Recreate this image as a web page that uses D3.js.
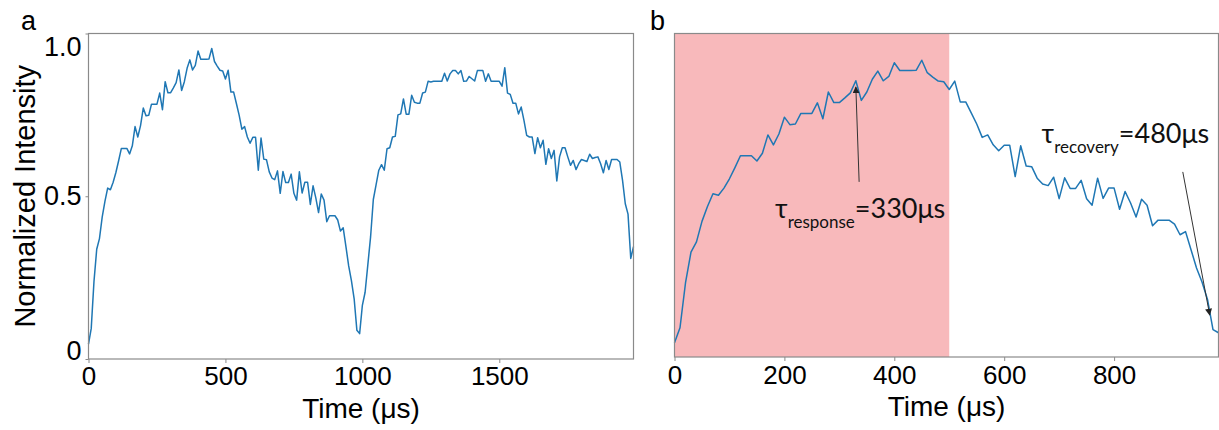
<!DOCTYPE html>
<html>
<head>
<meta charset="utf-8">
<script src="https://cdn.jsdelivr.net/npm/d3@7"></script>
<style>
  body { margin: 0; background: #fff; }
  svg { display: block; font-family: "Liberation Sans", Arial, sans-serif; }
  .note { font-family: Lato, "Open Sans", sans-serif; fill: #111; }
</style>
</head>
<body>
<svg id="chart" width="1219" height="430"></svg>
<script>
// sampled every 10 us, 0..1990 us
timeStep = 10;
intensity = [
  0.046,0.094,0.238,0.337,0.370,0.436,0.484,0.525,0.520,0.543,
  0.573,0.609,0.647,0.647,0.647,0.630,0.655,0.714,0.682,0.717,
  0.771,0.747,0.749,0.783,0.783,0.783,0.817,0.766,0.852,0.818,
  0.818,0.833,0.849,0.888,0.825,0.852,0.893,0.919,0.888,0.902,
  0.946,0.921,0.921,0.921,0.922,0.954,0.914,0.900,0.887,0.885,
  0.860,0.887,0.820,0.820,0.785,0.749,0.706,0.714,0.682,0.663,
  0.681,0.681,0.580,0.679,0.614,0.612,0.575,0.556,0.551,0.578,
  0.509,0.576,0.542,0.542,0.568,0.509,0.488,0.575,0.510,0.543,
  0.543,0.475,0.532,0.495,0.450,0.507,0.488,0.422,0.440,0.440,
  0.440,0.427,0.393,0.403,0.345,0.286,0.241,0.185,0.088,0.078,
  0.165,0.205,0.290,0.375,0.490,0.535,0.580,0.597,0.580,0.646,
  0.649,0.682,0.684,0.750,0.753,0.799,0.752,0.752,0.810,0.789,
  0.786,0.786,0.817,0.820,0.853,0.851,0.853,0.853,0.853,0.853,
  0.878,0.854,0.876,0.886,0.886,0.876,0.886,0.853,0.854,0.868,
  0.861,0.854,0.886,0.886,0.886,0.853,0.876,0.853,0.853,0.853,
  0.853,0.838,0.895,0.817,0.813,0.786,0.786,0.753,0.774,0.733,
  0.687,0.682,0.682,0.631,0.680,0.649,0.672,0.598,0.646,0.616,
  0.641,0.547,0.621,0.649,0.649,0.621,0.595,0.610,0.582,0.600,
  0.613,0.610,0.607,0.629,0.616,0.619,0.621,0.600,0.572,0.610,
  0.582,0.613,0.613,0.613,0.605,0.549,0.477,0.445,0.309,0.345
];
timeTicksA = [0, 500, 1000, 1500];
timeTicksB = [0, 200, 400, 600, 800];
intensityTicks = [0, 0.5, 1.0];
intensityLabels = ["0", "0.5", "1.0"];
onWindow = [0, 500];          // light-on period shaded in b
tauResponse = 330;
tauRecovery = 480;

points = intensity.map((v, i) => ({ t: i * timeStep, v: v }));
firstCycle = points.filter(d => d.t < 1000);

var svg = d3.select("#chart");
var lineColor = "#1f77b4";
var spine = "#8a8a8a";

svg.append("defs").append("marker")
  .attr("id", "head")
  .attr("viewBox", "0 0 10 10")
  .attr("refX", 9).attr("refY", 5)
  .attr("markerWidth", 7).attr("markerHeight", 7)
  .attr("markerUnits", "userSpaceOnUse")
  .attr("orient", "auto")
  .append("path").attr("d", "M0,0 L10,5 L0,10 Z").attr("fill", "#222");

function drawPanel(opts) {
  var x = d3.scaleLinear().domain(opts.xDomain).range([opts.left, opts.right]);
  var y = d3.scaleLinear().domain(opts.yDomain).range([opts.bottom, opts.top]);
  var g = svg.append("g");

  if (opts.shade) {
    g.append("rect")
      .attr("x", x(opts.shade[0])).attr("y", opts.top)
      .attr("width", x(opts.shade[1]) - x(opts.shade[0]))
      .attr("height", opts.bottom - opts.top)
      .attr("fill", "#f8b9bb");
  }

  g.append("path")
    .datum(opts.data)
    .attr("fill", "none")
    .attr("stroke", lineColor)
    .attr("stroke-width", 1.5)
    .attr("stroke-linejoin", "round")
    .attr("d", d3.line().x(d => x(d.t)).y(d => y(d.v)));

  g.append("rect")
    .attr("x", opts.left).attr("y", opts.top)
    .attr("width", opts.right - opts.left).attr("height", opts.bottom - opts.top)
    .attr("fill", "none").attr("stroke", spine).attr("stroke-width", 1.2);

  var xAxis = g.append("g")
    .attr("transform", "translate(0," + opts.bottom + ")")
    .call(d3.axisBottom(x).tickValues(opts.xTicks).tickFormat(d3.format("d"))
      .tickSize(4).tickPadding(opts.xPad).tickSizeOuter(0));
  xAxis.select(".domain").remove();
  xAxis.selectAll("line").attr("stroke", spine);
  xAxis.selectAll("text").attr("font-size", 26).attr("fill", "#000")
    .attr("font-family", "Liberation Sans, Arial, sans-serif");

  if (opts.yTicks) {
    var yAxis = g.append("g")
      .attr("transform", "translate(" + opts.left + ",0)")
      .call(d3.axisLeft(y).tickValues(opts.yTicks)
        .tickFormat((d, i) => intensityLabels[i])
        .tickSize(3).tickPadding(4).tickSizeOuter(0));
    yAxis.select(".domain").remove();
    yAxis.selectAll("line").attr("stroke", spine);
    yAxis.selectAll("text").attr("font-size", 27).attr("fill", "#000")
      .attr("font-family", "Liberation Sans, Arial, sans-serif")
      .attr("dy", (d) => d === 1 ? "0.8em" : (d === 0 ? "0" : "0.32em"));

    svg.append("text")
      .attr("transform", "translate(35," + ((opts.top + opts.bottom) / 2) + ") rotate(-90)")
      .attr("text-anchor", "middle")
      .attr("font-size", 29)
      .text("Normalized Intensity");
  }

  svg.append("text")
    .attr("x", (opts.left + opts.right) / 2)
    .attr("y", opts.labelY)
    .attr("text-anchor", "middle")
    .attr("font-size", 28)
    .text("Time (\u03bcs)");

  svg.append("text")
    .attr("x", opts.tagX).attr("y", 30)
    .attr("font-size", 27)
    .text(opts.tag);

  return { x: x, y: y, g: g };
}

var pa = drawPanel({
  data: points, xDomain: [0, 1990], yDomain: [0, 1],
  left: 88.5, right: 633.5, top: 33.5, bottom: 359,
  xTicks: timeTicksA, xPad: 4, yTicks: intensityTicks,
  labelY: 418, tag: "a", tagX: 21
});

var pb = drawPanel({
  data: firstCycle, xDomain: [0, 990], yDomain: [0, 1.04],
  left: 674.5, right: 1218.5, top: 33.5, bottom: 357,
  xTicks: timeTicksB, xPad: 5, shade: onWindow,
  labelY: 416, tag: "b", tagX: 650
});

// annotations in panel b
function arrow(from, to) {
  pb.g.append("line")
    .attr("x1", pb.x(from[0])).attr("y1", pb.y(from[1]))
    .attr("x2", pb.x(to[0])).attr("y2", pb.y(to[1]))
    .attr("stroke", "#333").attr("stroke-width", 1)
    .attr("marker-end", "url(#head)");
}
function tauLabel(t, v, sub, value) {
  var txt = pb.g.append("text").attr("class", "note")
    .attr("x", pb.x(t)).attr("y", pb.y(v)).attr("font-size", 27);
  txt.append("tspan").text("\u03c4");
  txt.append("tspan").attr("font-size", 17).attr("dy", 10).text(sub);
  txt.append("tspan").attr("dy", -10).text("=" + value + "\u03bcs");
}

arrow([336, 0.563], [330, 0.868]);
arrow([925, 0.595], [974, 0.135]);
tauLabel(183, 0.446, "response", tauResponse);
tauLabel(668, 0.687, "recovery", tauRecovery);
</script>
</body>
</html>
